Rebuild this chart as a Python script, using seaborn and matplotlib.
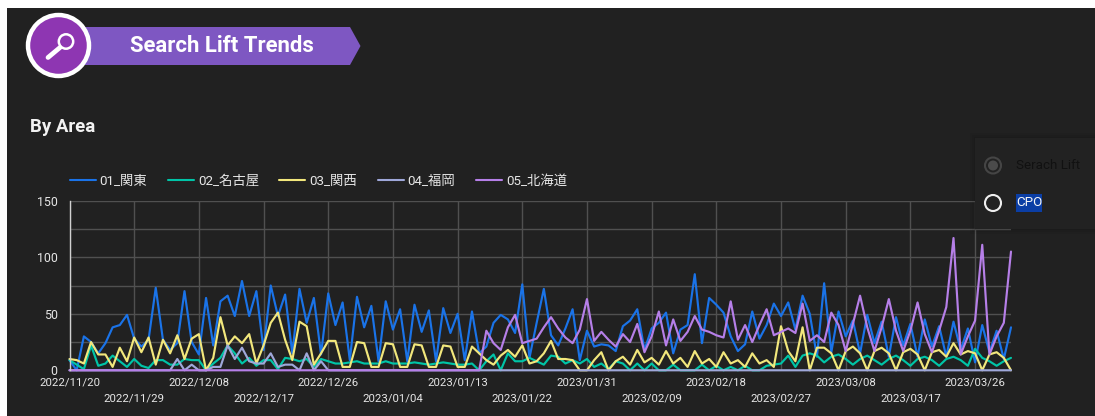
import pandas as pd
import seaborn as sns
import matplotlib.pyplot as plt
from matplotlib.patches import Circle, Polygon, Rectangle
from matplotlib.lines import Line2D

BG = "#212121"

start_date = "2022-11-20"
areas = ["01_関東", "02_名古屋", "03_関西", "04_福岡", "05_北海道"]
area_colors = ["#1a73e8", "#00c4a7", "#f2e77c", "#9fa8da", "#b67fe8"]
y_labels = [0, 50, 100, 150]

kanto = [9, 0, 30, 25, 15, 24, 38, 40, 49, 28, 21, 27, 73, 27, 18, 24, 70, 25, 14, 64,
         22, 61, 66, 48, 79, 48, 70, 18, 75, 48, 67, 15, 72, 42, 64, 14, 68, 40, 60, 9,
         65, 38, 57, 8, 61, 36, 54, 8, 58, 34, 53, 8, 55, 33, 50, 9, 52, 15, 21, 42,
         49, 45, 33, 76, 11, 42, 72, 31, 22, 37, 54, 9, 35, 21, 23, 22, 17, 39, 44, 54,
         18, 37, 42, 51, 15, 36, 40, 85, 24, 64, 58, 51, 30, 17, 23, 52, 28, 40, 59, 48,
         60, 36, 66, 50, 12, 77, 16, 52, 30, 44, 15, 49, 24, 43, 12, 47, 22, 41, 12, 45,
         21, 39, 12, 43, 18, 37, 7, 40, 16, 35, 10, 38]
nagoya = [9, 5, 1, 22, 4, 6, 13, 8, 3, 10, 4, 2, 9, 9, 5, 5, 10, 9, 9, 0,
          6, 11, 22, 15, 6, 11, 4, 9, 9, 1, 11, 10, 8, 10, 3, 10, 8, 6, 6, 7,
          8, 6, 6, 6, 8, 6, 6, 6, 7, 6, 5, 6, 7, 6, 5, 5, 6, 0, 8, 14,
          0, 15, 8, 8, 11, 8, 5, 13, 12, 6, 9, 6, 10, 3, 6, 1, 8, 6, 0, 6,
          0, 6, 0, 0, 5, 0, 0, 0, 5, 0, 4, 0, 3, 0, 4, 0, 0, 4, 5, 6,
          13, 3, 13, 15, 13, 7, 12, 14, 10, 5, 10, 13, 9, 5, 10, 13, 9, 4, 10, 12,
          9, 4, 10, 12, 9, 4, 19, 11, 8, 4, 8, 11]
kansai = [10, 9, 6, 25, 14, 14, 3, 20, 8, 29, 16, 29, 5, 27, 15, 31, 10, 28, 32, 0,
          11, 47, 22, 30, 24, 32, 6, 22, 42, 51, 27, 9, 43, 39, 5, 15, 26, 26, 3, 3,
          25, 24, 3, 3, 24, 23, 3, 3, 23, 22, 3, 3, 22, 21, 3, 3, 21, 15, 9, 5,
          13, 18, 12, 22, 6, 8, 15, 26, 10, 10, 9, 0, 0, 9, 16, 0, 8, 12, 5, 18,
          7, 11, 5, 17, 6, 11, 3, 17, 6, 10, 3, 16, 6, 9, 3, 15, 6, 9, 3, 39,
          17, 8, 38, 0, 20, 20, 15, 0, 17, 21, 15, 0, 17, 20, 15, 0, 16, 19, 14, 0,
          16, 18, 12, 24, 14, 17, 15, 0, 14, 16, 11, 0]
fukuoka = [0, 0, 0, 0, 0, 0, 0, 0, 0, 0, 0, 0, 0, 0, 0, 10, 0, 5, 0, 0,
           3, 3, 22, 10, 20, 8, 6, 6, 15, 3, 5, 5, 0, 15, 0, 8, 0, 0, 0, 0,
           0, 0, 0, 0, 0, 0, 0, 0, 0, 0, 0, 0, 0, 0, 0, 0, 0, 0, 0, 0,
           0, 0, 0, 0, 0, 0, 0, 0, 0, 0, 0, 0, 0, 0, 0, 0, 0, 0, 0, 0,
           0, 0, 0, 0, 0, 0, 0, 0, 0, 0, 0, 0, 0, 0, 0, 0, 0, 0, 0, 0,
           0, 0, 0, 0, 0, 0, 0, 0, 0, 0, 0, 0, 0, 0, 0, 0, 0, 0, 0, 0,
           0, 0, 0, 0, 0, 0, 0, 0, 0, 0, 0, 0]
hokkaido = [0, 0, 0, 0, 0, 0, 0, 0, 0, 0, 0, 0, 0, 0, 0, 0, 0, 0, 0, 0,
            0, 0, 0, 0, 0, 0, 0, 0, 0, 0, 0, 0, 0, 0, 0, 0, 0, 0, 0, 0,
            0, 0, 0, 0, 0, 0, 0, 0, 0, 0, 0, 0, 0, 0, 0, 0, 0, 0, 35, 24,
            18, 38, 49, 24, 26, 28, 38, 47, 37, 29, 24, 36, 63, 26, 34, 27, 21, 32, 25, 41,
            16, 30, 52, 22, 45, 26, 34, 48, 36, 34, 31, 29, 61, 27, 40, 25, 40, 54, 31, 34,
            37, 33, 59, 26, 31, 25, 51, 40, 17, 41, 66, 38, 17, 38, 63, 35, 17, 35, 60, 32,
            16, 35, 56, 117, 14, 30, 44, 111, 14, 30, 42, 105]

dates = pd.date_range(start_date, periods=len(kanto))
df = pd.DataFrame({"date": dates, areas[0]: kanto, areas[1]: nagoya, areas[2]: kansai,
                   areas[3]: fukuoka, areas[4]: hokkaido})
df = df.melt(id_vars="date", var_name="area", value_name="lift")

sns.set_theme(style="dark")
plt.rcParams["font.family"] = ["Roboto", "Noto Sans CJK JP", "DejaVu Sans"]

W, H = 1095, 416
fig = plt.figure(figsize=(W / 100, H / 100), dpi=100, facecolor="white")

# page background and header, in pixel coords
page = fig.add_axes([0, 0, 1, 1], zorder=0)
page.set_xlim(0, W)
page.set_ylim(H, 0)
page.axis("off")
page.add_patch(Rectangle((7, 8), W - 7, H - 8, color=BG, lw=0))
page.add_patch(Polygon([(85, 27), (350, 27), (360.5, 46), (350, 65), (85, 65)], color="#7e57c2", lw=0))
page.add_patch(Circle((58.5, 45.5), 30.5, fc="#8e36b2", ec="white", lw=3.2))
page.add_patch(Circle((66, 41.5), 7.2, fc="none", ec="white", lw=1.8))
page.add_line(Line2D([60, 48], [47.5, 57.5], color="white", lw=3.4, solid_capstyle="round"))
page.text(221.5, 46.5, "Search Lift Trends", color="white", fontsize=15.9, fontweight="bold",
          ha="center", va="center")
page.text(30, 127, "By Area", color="#f2f2f2", fontsize=13.4, fontweight="bold", ha="left", va="center")

ax = fig.add_axes([69.5 / W, 1 - 370.3 / H, (1011 - 69.5) / W, (370.3 - 200.7) / H], zorder=1)
ax.set_facecolor("none")
sns.lineplot(data=df, x="date", y="lift", hue="area", palette=area_colors, linewidth=1.55,
             ax=ax, legend=True, errorbar=None, clip_on=False)

ax.set_xlim(dates[0], dates[-1])
ax.set_ylim(0, 150)
ax.set_xlabel("")
ax.set_ylabel("")

ticks = dates[::9]
ax.set_xticks(ticks)
labels = []
for i, d in enumerate(ticks):
    s = d.strftime("%Y/%m/%d")
    labels.append(s if i % 2 == 0 else "\n" + s)
ax.set_xticklabels(labels, linespacing=1.66)
ax.set_yticks(y_labels)
ax.set_yticks([25, 75, 125], minor=True)
ax.tick_params(axis="both", which="both", length=0, colors="#e6e6e6", labelsize=8.2)
ax.tick_params(axis="x", pad=5.5)
ax.tick_params(axis="y", pad=8.6, labelsize=8.9)
ax.grid(True, which="both", axis="y", color="#505050", lw=1)
ax.grid(True, which="major", axis="x", color="#505050", lw=1)
ax.set_axisbelow(True)
for side in ["top", "right", "bottom"]:
    ax.spines[side].set_visible(False)
ax.spines["left"].set_color("#d0d0d0")
ax.spines["left"].set_linewidth(1)

leg = ax.legend(loc="lower left", bbox_to_anchor=(0, 1), ncol=5, frameon=False, fontsize=9.6,
                handlelength=1.95, handletextpad=0.3, columnspacing=1.54, borderaxespad=0,
                borderpad=0, labelcolor="#e6e6e6")
leg.set_bbox_to_anchor((0, 1.076), transform=ax.transAxes)
for h in leg.get_lines():
    h.set_linewidth(1.5)

# radio panel that sits over the chart
over = fig.add_axes([0, 0, 1, 1], zorder=2)
over.set_xlim(0, W)
over.set_ylim(H, 0)
over.axis("off")
over.set_facecolor("none")
for grow, alpha in [(5, 0.03), (3, 0.04), (1, 0.05)]:
    over.add_patch(Rectangle((975 - grow, 138 - grow), 130, 91 + 2 * grow, color="black", alpha=alpha, lw=0))
over.add_patch(Rectangle((975, 138), 120, 91, color="#222222", lw=0))
over.add_patch(Circle((993, 165.5), 8, fc="none", ec="#454545", lw=1.5))
over.add_patch(Circle((993, 165.5), 5, fc="#4b4b4b", ec="none"))
over.text(1016, 165.5, "Serach Lift", color="#111111", fontsize=9.6, ha="left", va="center")
over.add_patch(Circle((993, 203), 8, fc="none", ec="#efefef", lw=1.5))
over.add_patch(Rectangle((1015.5, 193.5), 26, 18, color="#0b3ea5", lw=0))
over.text(1016, 203, "CPO", color="#f5f5f5", fontsize=9.6, ha="left", va="center")

plt.savefig("out.png", dpi=100, facecolor="white")
